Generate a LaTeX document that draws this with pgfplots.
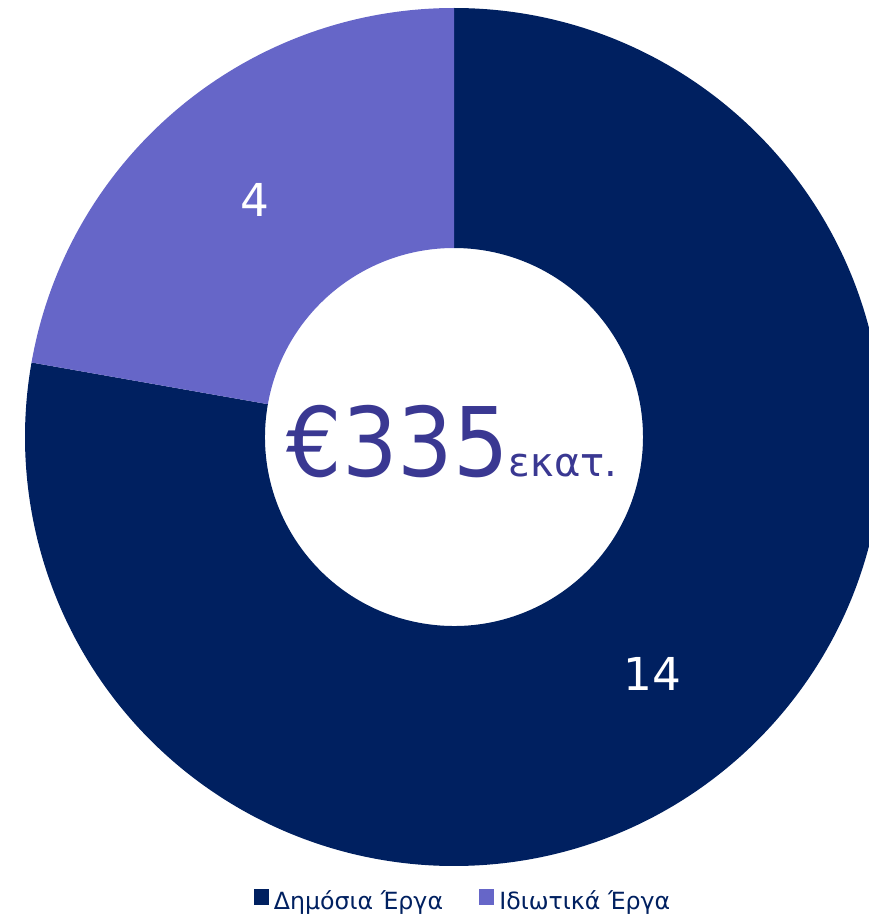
\documentclass[border=0pt]{standalone}
\usepackage{pgfplots}
\pgfplotsset{compat=1.18}
\usepackage{pgfplotstable}
\usepackage{fontspec}
\setmainfont{DejaVu Sans}

\definecolor{navy}{RGB}{0,32,96}
\definecolor{lav}{RGB}{102,102,200}
\definecolor{centre}{RGB}{58,56,146}

% share of each kind of works
\pgfplotstableread{
share
14
4
}\donut

\begin{document}
\begin{tikzpicture}
\pgfplotstablegetelem{0}{share}\of\donut \let\va\pgfplotsretval
\pgfplotstablegetelem{1}{share}\of\donut \let\vb\pgfplotsretval
\pgfmathsetmacro\tot{\va+\vb}
\pgfmathsetmacro\aA{90}
\pgfmathsetmacro\bA{90-360*\va/\tot}
\pgfmathsetmacro\bB{\bA-360*\vb/\tot}
\pgfmathsetmacro\mA{(\aA+\bA)/2}
\pgfmathsetmacro\mB{(\bA+\bB)/2}
% radii in pt (1 px = 0.3pt)
\def\Ro{128.7}
\def\Ri{56.7}
\pgfmathsetmacro\Rd{\Ro-\Ri}
\path[use as bounding box, clip] (0,0) rectangle (260.7pt,276.9pt);
\begin{axis}[
    x=0.3pt, y=0.3pt,
    xmin=0, xmax=869, ymin=0, ymax=923,
    at={(0,0)}, anchor=south west,
    scale only axis, hide axis, clip=false,
    legend columns=2,
    legend style={draw=none, fill=none, at={(axis cs:462,1)}, anchor=south,
        font=\fontsize{7.1}{9}\selectfont, text=navy,
        nodes={inner sep=0pt},
        /tikz/every odd column/.append style={column sep=1.5pt},
        /tikz/every even column/.append style={column sep=10.8pt}},
]
    \fill[navy] (axis cs:454,486) ++(\aA:\Ro pt) arc[start angle=\aA, end angle=\bA, radius=\Ro pt]
        -- ++(\bA:-\Rd pt) arc[start angle=\bA, end angle=\aA, radius=\Ri pt] -- cycle;
    \fill[lav] (axis cs:454,486) ++(\bA:\Ro pt) arc[start angle=\bA, end angle=\bB, radius=\Ro pt]
        -- ++(\bB:-\Rd pt) arc[start angle=\bB, end angle=\bA, radius=\Ri pt] -- cycle;

    \node[white, font=\fontsize{13.6}{15}\selectfont] at (axis cs:{454+309*cos(\mA)},{486+309*sin(\mA)}) {\va};
    \node[white, font=\fontsize{13.6}{15}\selectfont] at (axis cs:{454+309*cos(\mB)},{486+309*sin(\mB)}) {\vb};

    \node[centre, anchor=base, inner sep=0pt] at (axis cs:452,446)
        {\fontsize{28.8}{30}\selectfont\scalebox{0.91}[1]{€335}\fontsize{12}{13}\selectfont εκατ.};

    \addlegendimage{legend image code/.code={\fill[navy] (0pt,-0.4pt) rectangle (4.2pt,3.8pt);}}
    \addlegendentry{Δημόσια Έργα}
    \addlegendimage{legend image code/.code={\fill[lav] (0pt,-0.4pt) rectangle (4.2pt,3.8pt);}}
    \addlegendentry{Ιδιωτικά Έργα}
\end{axis}
\end{tikzpicture}
\end{document}
